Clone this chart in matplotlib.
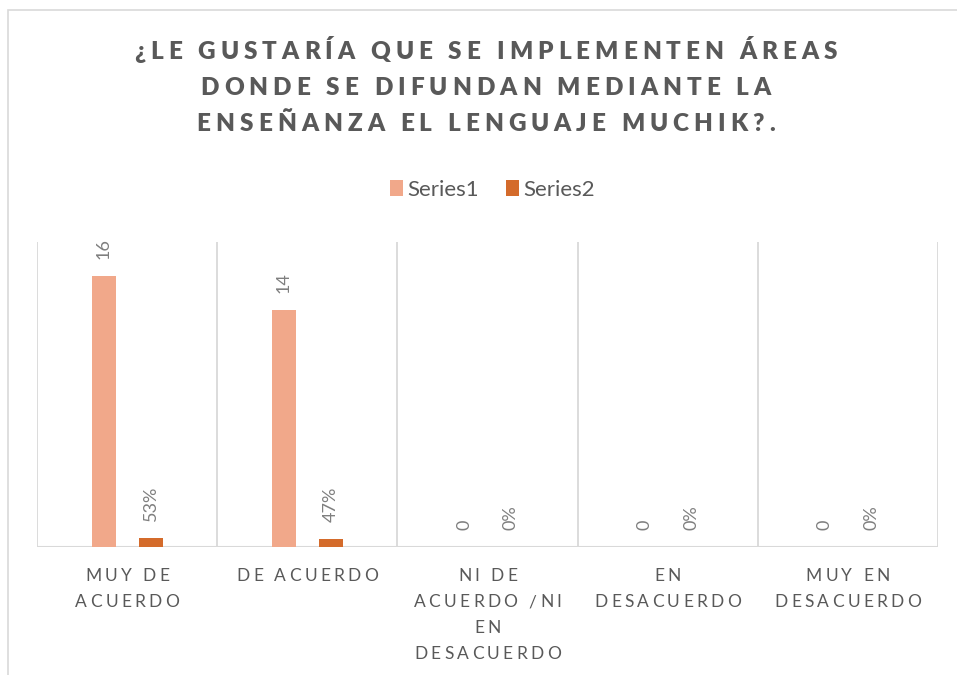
import matplotlib
matplotlib.use("Agg")
import matplotlib.pyplot as plt
from matplotlib.font_manager import FontProperties
from matplotlib.patches import Rectangle
import numpy as np

title_lines = [
    "¿LE GUSTARÍA QUE SE IMPLEMENTEN ÁREAS",
    "DONDE SE DIFUNDAN MEDIANTE LA",
    "ENSEÑANZA EL LENGUAJE MUCHIK?.",
]
categories = [
    ["MUY DE", "ACUERDO"],
    ["DE ACUERDO"],
    ["NI DE", "ACUERDO /NI", "EN", "DESACUERDO"],
    ["EN", "DESACUERDO"],
    ["MUY EN", "DESACUERDO"],
]
series_names = ["Series1", "Series2"]
series1 = [16, 14, 0, 0, 0]
series2 = [0.53, 0.47, 0, 0, 0]

W, H = 957, 675
C1 = "#F1A88A"
C2 = "#D46B2B"
GRID = "#D9D9D9"
TXT = "#595959"


def spaced_text(fig, renderer, x, y, s, spacing, fp, color):
    # matplotlib has no letter-spacing, so place the glyphs one by one (pixel coords, y from top)
    def width(t):
        if not t:
            return 0.0
        return renderer.get_text_width_height_descent(t, fp, ismath=False)[0]

    total = width(s) + spacing * (len(s) - 1)
    x0 = x - total / 2
    for i, ch in enumerate(s):
        if ch == " ":
            continue
        xi = x0 + width(s[:i]) + i * spacing
        fig.text(xi / W, 1 - y / H, ch, fontproperties=fp, color=color,
                 ha="left", va="baseline")


fig = plt.figure(figsize=(W / 100, H / 100), dpi=100)
fig.patches.append(Rectangle((8 / W, -0.1), 1.2, 1 - 10 / H + 0.1,
                             transform=fig.transFigure, fill=False,
                             edgecolor=GRID, linewidth=1.2))

ax = fig.add_axes([37 / W, (H - 547) / H, (938 - 37) / W, (547 - 242) / H])
x = np.arange(len(series1))
bw = 0.133
b1 = ax.bar(x - 0.13, series1, bw, color=C1, label=series_names[0], zorder=3)
b2 = ax.bar(x + 0.13, series2, bw, color=C2, label=series_names[1], zorder=3)

lab_kw = dict(textcoords="offset points", xytext=(0, 12), rotation=90,
              ha="center", va="bottom", color="#7F7F7F", family="Lato", fontsize=13)
for xi, v in zip(x, series1):
    ax.annotate(f"{v:.0f}", (xi - 0.13, v), **lab_kw)
for xi, v in zip(x, series2):
    ax.annotate(f"{v:.0%}", (xi + 0.13, v), **lab_kw)

ax.set_xlim(-0.5, len(series1) - 0.5)
ax.set_ylim(0, 18)
for b in np.arange(len(series1) + 1) - 0.5:
    ax.axvline(b, color=GRID, linewidth=1.3, zorder=1)
ax.axhline(0, color=GRID, linewidth=1.5, zorder=2)
for sp in ax.spines.values():
    sp.set_visible(False)
ax.set_xticks([])
ax.set_yticks([])

fig.legend(handles=[b1, b2], loc="center", bbox_to_anchor=(492.5 / W, 1 - 190 / H),
           ncol=2, frameon=False, handlelength=0.6, handleheight=0.7,
           handletextpad=0.2, columnspacing=1.2,
           prop=FontProperties(family="Lato", size=16), labelcolor=TXT)

renderer = fig.canvas.get_renderer()

title_fp = FontProperties(family="Lato", weight="heavy", size=17.5)
for i, line in enumerate(title_lines):
    spaced_text(fig, renderer, 485.5, 59 + i * 36, line, 5.0, title_fp, TXT)

tick_fp = FontProperties(family="Lato", size=12.5)
for i, lines in enumerate(categories):
    cx = ax.transData.transform((i, 0))[0]
    for j, line in enumerate(lines):
        spaced_text(fig, renderer, cx, 581 + j * 26, line, 3.3, tick_fp, TXT)

fig.savefig("out.png", dpi=100)
